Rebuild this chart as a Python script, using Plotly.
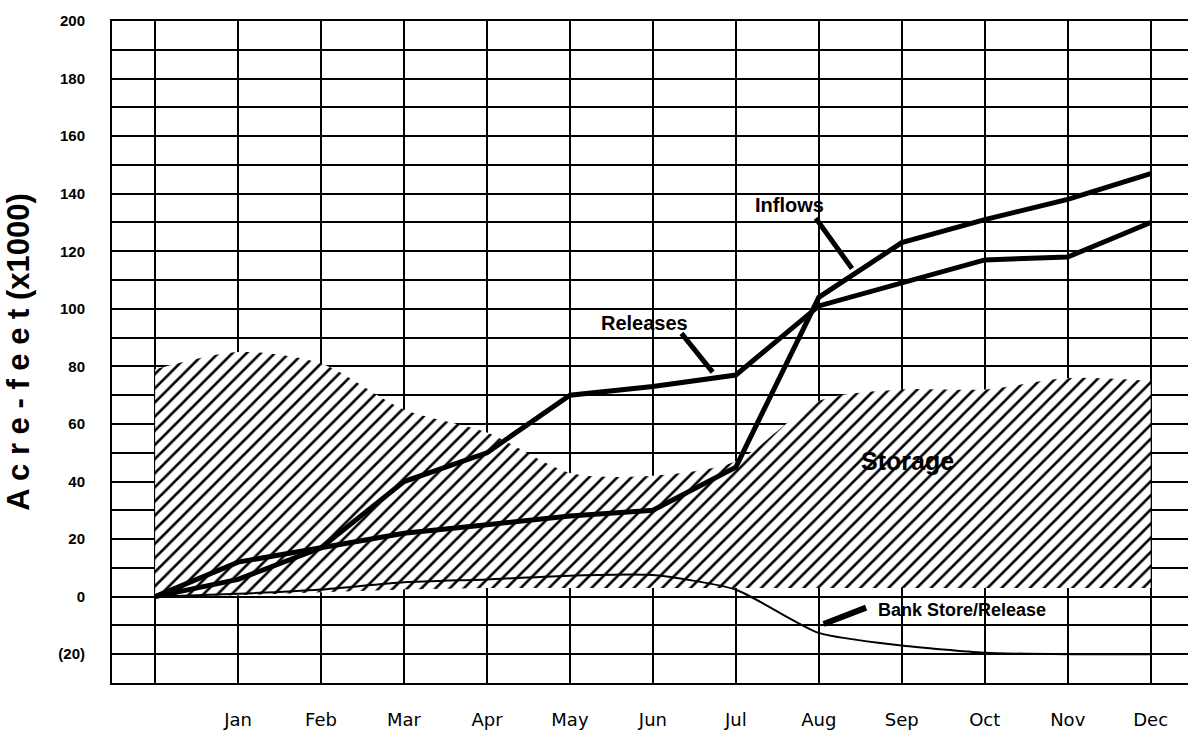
import plotly.graph_objects as go

# ---- data (thousand acre-feet) ----
months = list(range(13))  # 0 = start, 1..12 = end of month
month_labels = ["", "Jan", "Feb", "Mar", "Apr", "May", "Jun", "Jul", "Aug", "Sep", "Oct", "Nov", "Dec"]
inflows = [0, 12, 17, 22, 25, 28, 30, 45, 104, 123, 131, 138, 147]
releases = [0, 6, 17, 40, 50, 70, 73, 77, 101, 109, 117, 118, 130]
bank = [0, 1, 2.5, 5, 6, 7.3, 7.5, 2.4, -12.6, -17, -19.5, -20, -20]
storage_top = [79, 85, 81, 65, 57, 43, 42, 47, 68, 72, 72, 76, 75]
storage_base = [0, 0.5, 1.5, 2.5, 3, 3, 3, 3, 3, 3, 3, 3, 3]
y_ticks = list(range(-30, 201, 10))
y_ticktext = ["" if v % 20 else ("(20)" if v == -20 else str(v)) for v in y_ticks]

fig = go.Figure()

fig.add_trace(go.Scatter(x=months, y=storage_base, mode="lines",
                         line=dict(width=0, color="rgba(0,0,0,0)"), hoverinfo="skip",
                         showlegend=False))
fig.add_trace(go.Scatter(x=months, y=storage_top, mode="lines", name="Storage",
                         line=dict(width=0, color="rgba(0,0,0,0)", shape="spline", smoothing=0.8),
                         fill="tonexty", fillcolor="white",
                         fillpattern=dict(shape="/", fgcolor="black", bgcolor="white",
                                          fgopacity=1, size=10, solidity=0.26),
                         showlegend=False))
fig.add_trace(go.Scatter(x=months, y=bank, mode="lines", name="Bank Store/Release",
                         line=dict(color="black", width=2, shape="spline", smoothing=0.6),
                         showlegend=False))
fig.add_trace(go.Scatter(x=months, y=releases, mode="lines", name="Releases",
                         line=dict(color="black", width=5), showlegend=False))
fig.add_trace(go.Scatter(x=months, y=inflows, mode="lines", name="Inflows",
                         line=dict(color="black", width=5), showlegend=False))

fam = "Liberation Sans, Arial, sans-serif"
annos = [
    dict(x=7.65, y=136, text="<b>Inflows</b>", showarrow=False,
         font=dict(family=fam, size=20, color="black")),
    dict(x=8.4, y=114, ax=7.95, ay=132, axref="x", ayref="y", text="", showarrow=True,
         arrowhead=0, arrowwidth=5, arrowcolor="black"),
    dict(x=5.9, y=95, text="<b>Releases</b>", showarrow=False,
         font=dict(family=fam, size=20, color="black")),
    dict(x=6.72, y=78, ax=6.33, ay=92, axref="x", ayref="y", text="", showarrow=True,
         arrowhead=0, arrowwidth=5, arrowcolor="black"),
    dict(x=9.07, y=47, text="<b>Storage</b>", showarrow=False,
         font=dict(family=fam, size=25, color="black")),
    dict(x=9.72, y=-4.5, text="<b>Bank Store/Release</b>", showarrow=False,
         font=dict(family=fam, size=18, color="black")),
    dict(x=8.57, y=-3.8, ax=8.04, ay=-9.7, axref="x", ayref="y", text="", showarrow=True,
         arrowhead=0, arrowwidth=6, arrowcolor="black"),
]
fig.update_layout(annotations=annos)

fig.update_xaxes(range=[-0.52, 12.45], tickmode="array", tickvals=months, ticktext=month_labels,
                 showgrid=True, gridcolor="black", gridwidth=1.5, zeroline=False,
                 showline=True, linecolor="black", linewidth=2, mirror=True,
                 ticks="", ticklabelstandoff=19,
                 tickfont=dict(family="DejaVu Sans, Verdana, sans-serif", size=18, color="black"))
fig.update_yaxes(range=[-30, 200], tickmode="array", tickvals=y_ticks, ticktext=y_ticktext,
                 showgrid=True, gridcolor="black", gridwidth=2, zeroline=False,
                 showline=True, linecolor="black", linewidth=2, mirror=True,
                 ticks="", ticklabelstandoff=22,
                 tickfont=dict(family=fam, size=15, color="black", weight="bold"),
                 title=dict(text="<b>A c r e - f e e t (x1000)</b>", standoff=19,
                            font=dict(family=fam, size=31, color="black")))

fig.update_layout(width=1188, height=732, paper_bgcolor="white", plot_bgcolor="white",
                  margin=dict(l=112, r=0, t=21, b=49, autoexpand=False), showlegend=False)

fig.write_html("out.html", config={"displayModeBar": False},
               post_script="document.body.style.margin='0';")
